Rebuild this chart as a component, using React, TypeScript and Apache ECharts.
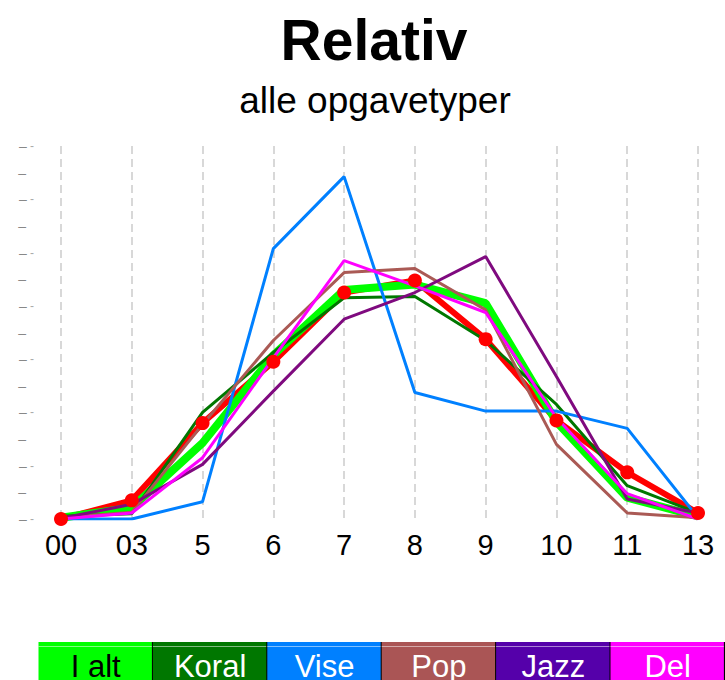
import React, { useEffect, useRef } from "react";
import * as echarts from "echarts";

const categories = ["00", "03", "5", "6", "7", "8", "9", "10", "11", "13"];
const iAlt = [0.1, 0.85, 5.7, 12.3, 17.2, 17.6, 16.2, 7.3, 1.6, 0.2];
const koral = [0.2, 0.4, 8.0, 12.5, 16.6, 16.7, 13.4, 8.6, 2.5, 0.45];
const vise = [0, 0, 1.3, 20.3, 25.7, 9.5, 8.1, 8.1, 6.8, 0.1];
const pop = [0.1, 0.5, 7.1, 13.4, 18.5, 18.8, 15.7, 5.6, 0.45, 0.1];
const jazz = [0.05, 1.1, 4.1, 9.6, 15.0, 17.0, 19.7, 10.7, 1.5, 0.45];
const del = [0, 0.45, 4.6, 12.1, 19.4, 17.5, 15.5, 7.6, 1.9, 0];
const total = [0, 1.4, 7.2, 11.8, 17.0, 17.9, 13.5, 7.4, 3.5, 0.45];

const legendNames = ["I alt", "Koral", "Vise", "Pop", "Jazz", "Del"];
const legendColors = ["#00ff00", "#007700", "#0080ff", "#aa5555", "#5500aa", "#ff00ff"];
const legendTextColors = ["#000000", "#ffffff", "#ffffff", "#ffffff", "#ffffff", "#ffffff"];

const FONT = "'Liberation Sans', Arial, sans-serif";

export default function App() {
  const ref = useRef<HTMLDivElement>(null);
  useEffect(() => {
    if (!ref.current) return;
    const chart = echarts.init(ref.current, undefined, { renderer: "svg" });

    const boxW = 114.4;
    const boxX0 = 38.5;
    const boxTop = 642;
    const legendGraphics: any[] = [];
    legendNames.forEach((name, i) => {
      const x = boxX0 + i * boxW;
      legendGraphics.push({
        type: "rect",
        shape: { x, y: boxTop, width: boxW, height: 680 - boxTop },
        style: { fill: legendColors[i] },
        silent: true,
      });
      legendGraphics.push({
        type: "line",
        shape: { x1: x, y1: boxTop + 4.5, x2: x + boxW, y2: boxTop + 4.5 },
        style: { stroke: "rgba(255,255,255,0.5)", lineWidth: 1 },
        silent: true,
      });
      legendGraphics.push({
        type: "line",
        shape: { x1: x + boxW, y1: boxTop, x2: x + boxW, y2: 680 },
        style: { stroke: "#000000", lineWidth: 2 },
        silent: true,
      });
      legendGraphics.push({
        type: "text",
        x: x + boxW / 2,
        y: 666,
        style: {
          text: name,
          fill: legendTextColors[i],
          font: `31px ${FONT}`,
          textAlign: "center",
          textVerticalAlign: "middle",
        },
        silent: true,
      });
    });

    const thin = (name: string, data: number[], color: string) => ({
      name,
      type: "line",
      data,
      showSymbol: false,
      symbol: "none",
      lineStyle: { color, width: 3 },
      itemStyle: { color },
    });

    chart.setOption({
      animation: false,
      backgroundColor: "#ffffff",
      title: [
        {
          text: "Relativ",
          left: 369,
          textAlign: "center",
          top: 6,
          textStyle: { fontSize: 57, fontWeight: "bold", color: "#000", fontFamily: FONT },
        },
        {
          text: "alle opgavetyper",
          left: 370,
          textAlign: "center",
          top: 77,
          textStyle: { fontSize: 37, fontWeight: "normal", color: "#000", fontFamily: FONT },
        },
      ],
      grid: { left: 61, right: 27, top: 146, bottom: 161, containLabel: false },
      xAxis: {
        type: "category",
        data: categories,
        boundaryGap: false,
        axisLine: { show: false },
        axisTick: { show: false },
        axisLabel: { fontSize: 29, color: "#000", fontFamily: FONT, margin: 11 },
        splitLine: { show: true, lineStyle: { color: "#cccccc", type: [8, 5], width: 1.5 } },
      },
      yAxis: {
        type: "value",
        min: 0,
        max: 28,
        interval: 2,
        axisLine: { show: false },
        axisTick: { show: false },
        splitLine: { show: false },
        axisLabel: {
          margin: 27,
          formatter: (v: number) => ((v / 2) % 2 === 0 ? "{a|–} {b|-}" : "{c|–}"),
          rich: {
            a: { fontSize: 14, color: "#888", fontFamily: FONT },
            b: { fontSize: 12, color: "#aaa", fontFamily: FONT },
            c: { fontSize: 14, color: "#888", fontFamily: FONT, padding: [0, 8, 0, 0] },
          },
        },
      },
      series: [
        {
          name: "Total",
          type: "line",
          data: total,
          symbol: "circle",
          symbolSize: 14,
          showSymbol: true,
          lineStyle: { color: "#ff0000", width: 6 },
          itemStyle: { color: "#ff0000" },
        },
        {
          name: "I alt",
          type: "line",
          data: iAlt,
          symbol: "none",
          showSymbol: false,
          lineStyle: { color: "#00ff00", width: 8 },
          itemStyle: { color: "#00ff00" },
        },
        thin("Koral", koral, "#007700"),
        thin("Vise", vise, "#0080ff"),
        thin("Pop", pop, "#aa5a55"),
        thin("Jazz", jazz, "#7f0a7f"),
        thin("Del", del, "#ff00ff"),
      ],
      graphic: legendGraphics,
    });

    return () => chart.dispose();
  }, []);

  return <div ref={ref} style={{ width: 725, height: 680, position: "absolute", left: 0, top: 0 }} />;
}
